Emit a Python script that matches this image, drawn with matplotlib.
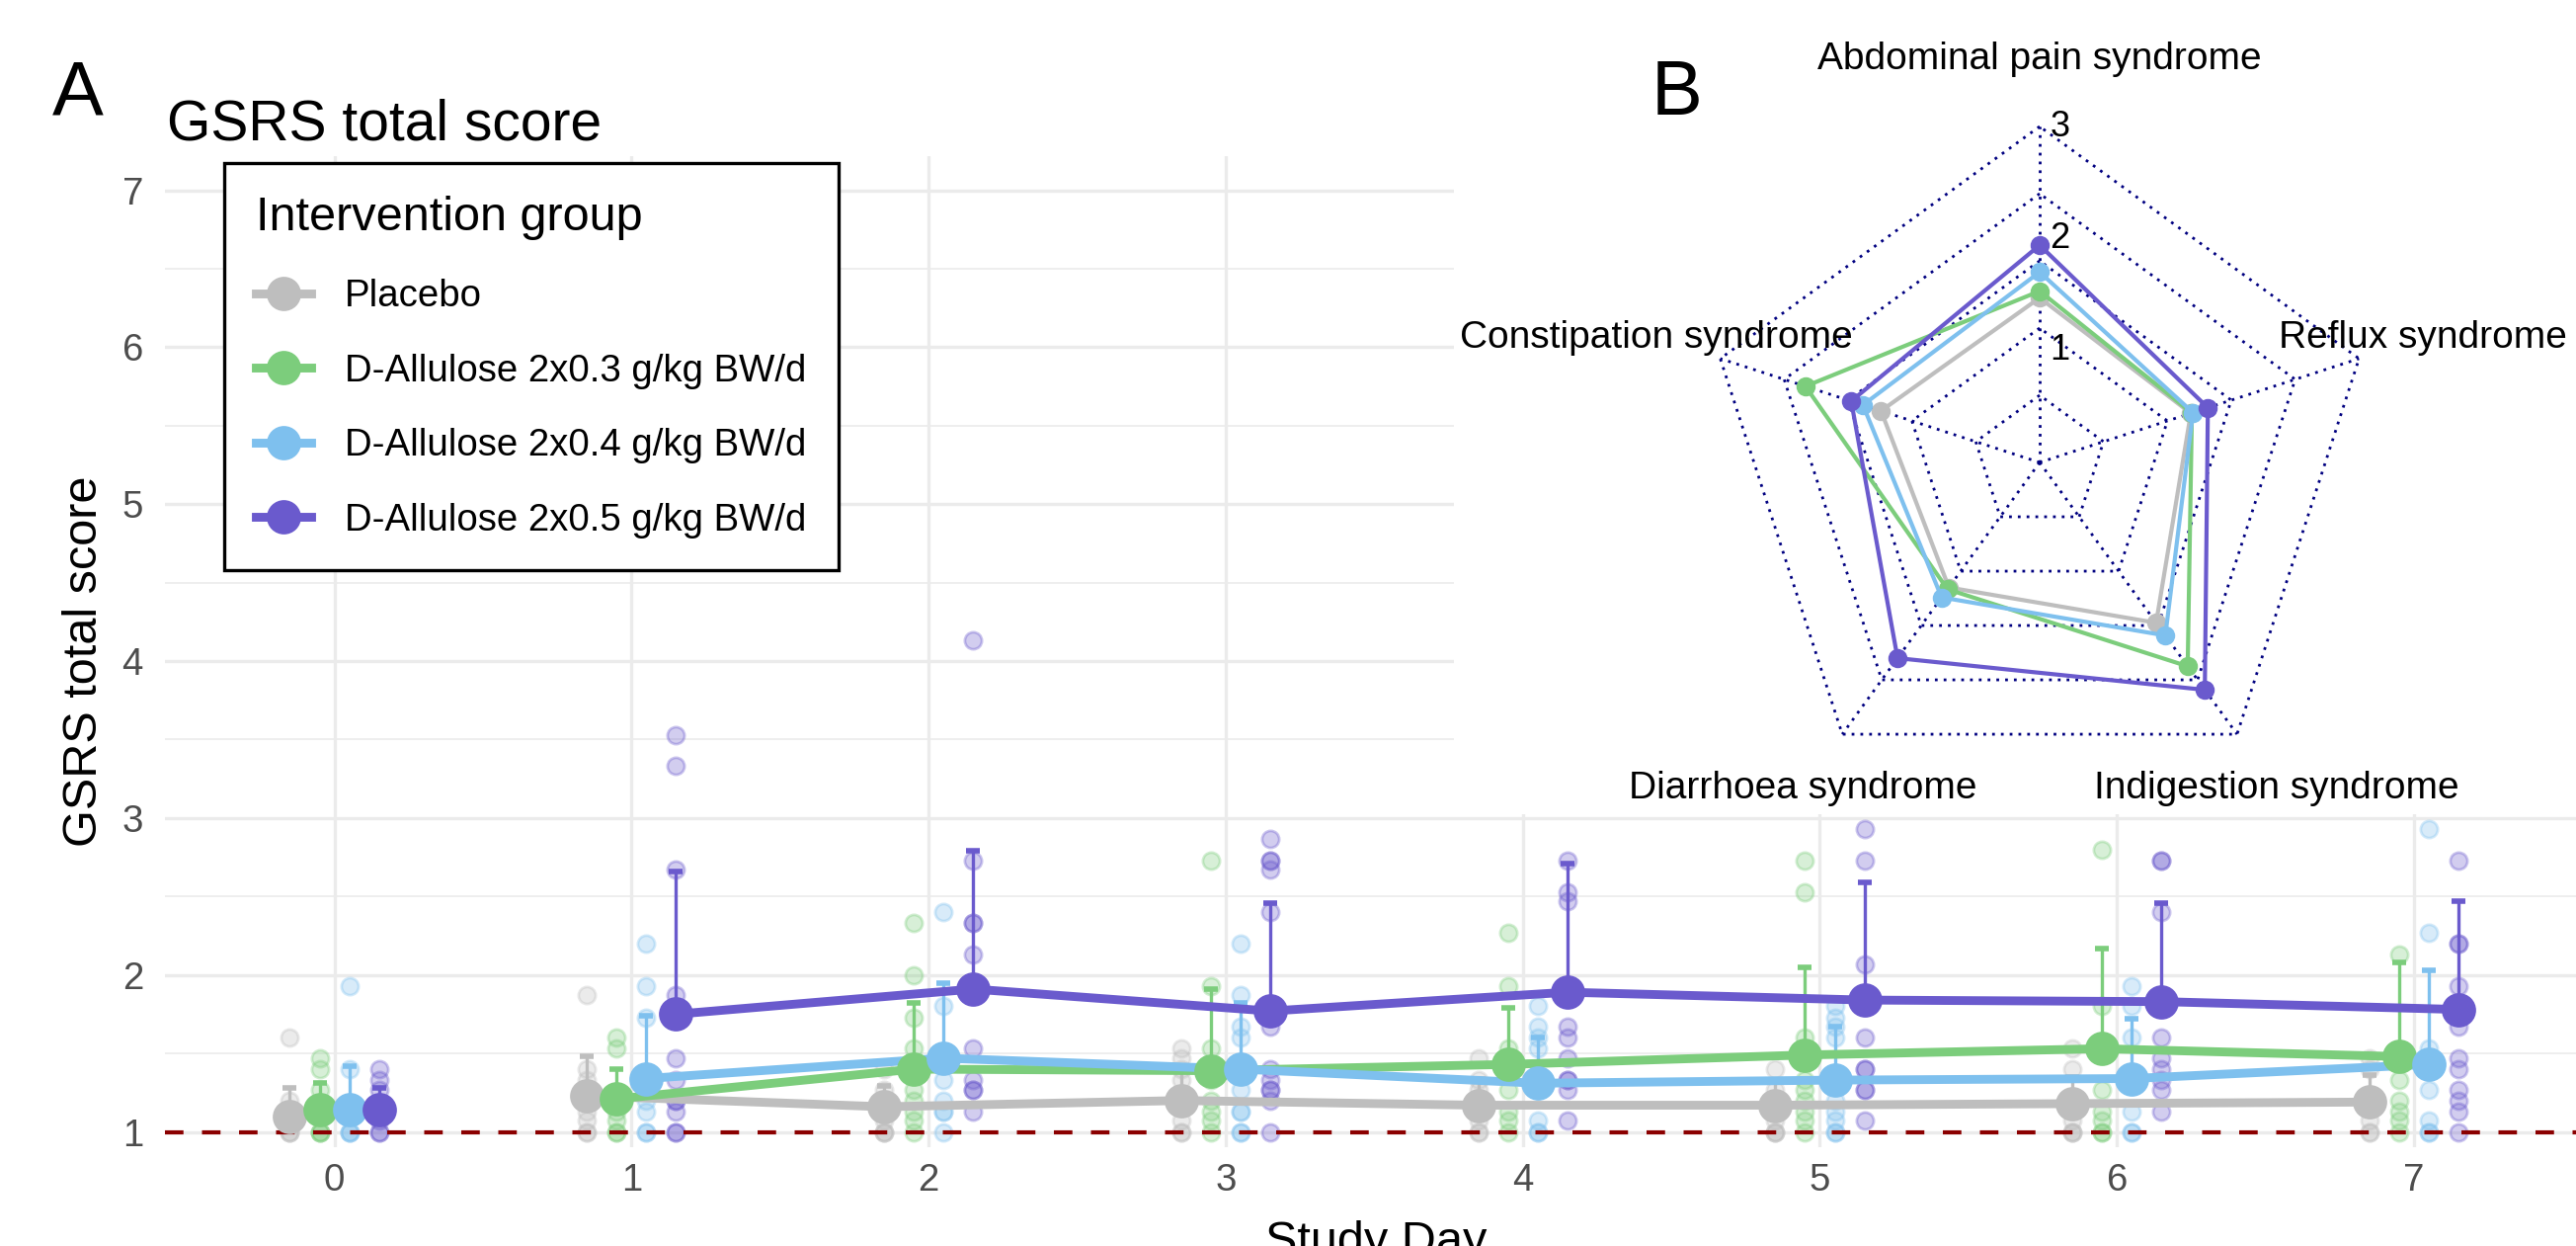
import matplotlib
matplotlib.use("Agg")
import matplotlib.pyplot as plt
import numpy as np
from matplotlib.colors import to_rgba
from matplotlib.lines import Line2D

plt.rcParams['font.family'] = ['Liberation Sans', 'DejaVu Sans']

# ---- data -------------------------------------------------------------
days = [0, 1, 2, 3, 4, 5, 6, 7]
groups = ["Placebo", "D-Allulose 2x0.3 g/kg BW/d",
          "D-Allulose 2x0.4 g/kg BW/d", "D-Allulose 2x0.5 g/kg BW/d"]
colors = ["#BEBEBE", "#7CCD7C", "#7EC0EE", "#6A5ACD"]

# individual GSRS total scores per day
placebo_pts = [[1.6, 1.2, 1.07, 1.0, 1.0, 1.0],
               [1.87, 1.4, 1.33, 1.13, 1.07, 1.0, 1.0],
               [1.4, 1.27, 1.07, 1.0, 1.0, 1.0],
               [1.53, 1.47, 1.4, 1.33, 1.07, 1.0, 1.0],
               [1.47, 1.33, 1.27, 1.07, 1.0, 1.0],
               [1.4, 1.27, 1.07, 1.0, 1.0, 1.0],
               [1.53, 1.4, 1.07, 1.0, 1.0, 1.0],
               [1.47, 1.4, 1.07, 1.0, 1.0]]
low_pts = [[1.47, 1.4, 1.27, 1.0, 1.0, 1.0],
           [1.6, 1.53, 1.13, 1.07, 1.0, 1.0],
           [2.33, 2.0, 1.73, 1.53, 1.27, 1.2, 1.13, 1.07, 1.0],
           [2.73, 1.93, 1.53, 1.33, 1.2, 1.13, 1.07, 1.0],
           [2.27, 1.93, 1.53, 1.27, 1.13, 1.07, 1.0],
           [2.73, 2.53, 1.6, 1.33, 1.27, 1.2, 1.13, 1.07, 1.0],
           [2.8, 1.8, 1.27, 1.13, 1.07, 1.0, 1.0],
           [2.13, 1.47, 1.33, 1.2, 1.13, 1.07, 1.0]]
mid_pts = [[1.93, 1.4, 1.0, 1.0, 1.0],
           [2.2, 1.93, 1.73, 1.2, 1.13, 1.0, 1.0],
           [2.4, 1.8, 1.33, 1.2, 1.13, 1.13, 1.0],
           [2.2, 1.87, 1.67, 1.6, 1.27, 1.13, 1.13, 1.0, 1.0],
           [1.8, 1.67, 1.6, 1.53, 1.07, 1.0, 1.0],
           [1.8, 1.73, 1.67, 1.6, 1.2, 1.13, 1.07, 1.0, 1.0],
           [1.93, 1.8, 1.6, 1.13, 1.0, 1.0],
           [2.93, 2.27, 1.53, 1.27, 1.07, 1.0, 1.0]]
high_pts = [[1.4, 1.33, 1.27, 1.07, 1.0, 1.0],
            [3.53, 3.33, 2.67, 1.87, 1.47, 1.33, 1.2, 1.2, 1.13, 1.0, 1.0],
            [4.13, 2.73, 2.33, 2.33, 2.13, 1.53, 1.33, 1.27, 1.27, 1.13],
            [2.87, 2.73, 2.73, 2.67, 2.4, 1.67, 1.4, 1.33, 1.27, 1.27, 1.2, 1.0],
            [2.73, 2.53, 2.47, 1.67, 1.6, 1.47, 1.33, 1.33, 1.27, 1.07],
            [2.93, 2.73, 2.07, 1.6, 1.4, 1.4, 1.27, 1.27, 1.07],
            [2.73, 2.73, 2.4, 1.6, 1.47, 1.4, 1.33, 1.27, 1.13],
            [2.73, 2.2, 2.2, 1.93, 1.67, 1.47, 1.4, 1.27, 1.2, 1.13, 1.0]]

# group means and SD (upper error bar only)
placebo_mean = [1.10, 1.23, 1.16, 1.20, 1.17, 1.17, 1.18, 1.19]
low_mean = [1.14, 1.21, 1.40, 1.39, 1.43, 1.49, 1.53, 1.48]
mid_mean = [1.14, 1.34, 1.47, 1.40, 1.31, 1.33, 1.34, 1.43]
high_mean = [1.14, 1.75, 1.91, 1.77, 1.89, 1.84, 1.83, 1.78]
placebo_sd = [0.18, 0.25, 0.13, 0.20, 0.17, 0.16, 0.17, 0.17]
low_sd = [0.17, 0.19, 0.42, 0.52, 0.36, 0.56, 0.64, 0.60]
mid_sd = [0.28, 0.40, 0.48, 0.42, 0.29, 0.34, 0.38, 0.60]
high_sd = [0.14, 0.91, 0.88, 0.69, 0.82, 0.75, 0.63, 0.69]

# radar: syndrome sub scores
syndromes = ["Abdominal pain syndrome", "Constipation syndrome",
             "Diarrhoea syndrome", "Indigestion syndrome", "Reflux syndrome"]
placebo_radar = [1.47, 1.49, 1.38, 1.77, 1.42]
low_radar = [1.53, 2.20, 1.40, 2.25, 1.43]
mid_radar = [1.70, 1.66, 1.49, 1.91, 1.44]
high_radar = [1.94, 1.77, 2.16, 2.51, 1.58]
radar_max = 3

all_pts = [placebo_pts, low_pts, mid_pts, high_pts]
all_mean = [placebo_mean, low_mean, mid_mean, high_mean]
all_sd = [placebo_sd, low_sd, mid_sd, high_sd]
all_radar = [placebo_radar, low_radar, mid_radar, high_radar]

# ---- figure -------------------------------------------------------------
W, H = 2608, 1261
fig = plt.figure(figsize=(W / 200, H / 200), dpi=200)


def fx(px):
    return px / W


def fy(py):
    return 1 - py / H


ax = fig.add_axes([fx(167.1), fy(1161.4), 1 - fx(167.1), fy(157.6) - fy(1161.4)])
offsets = [-0.15, -0.05, 0.05, 0.15]
d = np.array(days, dtype=float)

for i in range(4):
    c = colors[i]
    for day, vals in zip(days, all_pts[i]):
        ax.plot(np.full(len(vals), day + offsets[i]), vals, 'o', ls='none', ms=6.2,
                mfc=to_rgba(c, 0.3), mec=to_rgba(c, 0.35), mew=1.0, zorder=2)

ax.axhline(1, color='#8B0000', lw=1.5, dashes=(4.5, 4.5), zorder=3)

for i in range(4):
    c = colors[i]
    m = np.array(all_mean[i])
    s = np.array(all_sd[i])
    ax.errorbar(d + offsets[i], m, yerr=[np.zeros_like(s), s], fmt='none',
                ecolor=c, elinewidth=1.2, capsize=2.5, capthick=2.0, zorder=4)
    ax.plot(d[1:] + offsets[i], m[1:], color=c, lw=3.2, zorder=5)
    ax.plot(d + offsets[i], m, 'o', ls='none', color=c, ms=11.5, zorder=6)

ax.set_xlim(-0.57, 7.545)
ax.set_ylim(0.9, 7.22)
ax.set_xticks(days)
ax.set_yticks(range(1, 8))
ax.set_yticks(np.arange(1.5, 7.0, 1.0), minor=True)
ax.grid(which='major', color='#EBEBEB', lw=1.2)
ax.grid(which='minor', axis='y', color='#EBEBEB', lw=0.6)
ax.set_axisbelow(True)
for sp in ax.spines.values():
    sp.set_visible(False)
ax.tick_params(which='both', length=0, labelsize=13.8, labelcolor='#4D4D4D')
ax.tick_params(axis='x', pad=5.5)
ax.tick_params(axis='y', pad=8)

handles = [Line2D([], [], color=c, lw=3.2, marker='o', ms=11.5) for c in colors]
leg = ax.legend(handles, groups, title='Intervention group', loc='upper left',
                bbox_to_anchor=(fx(226.7), fy(165.3)), bbox_transform=fig.transFigure,
                borderaxespad=0, fancybox=False, framealpha=1, edgecolor='black',
                fontsize=13.8, title_fontsize=17.5, alignment='left',
                handlelength=1.45, handletextpad=0.89, borderpad=0.85, labelspacing=1.03)
leg.get_frame().set_linewidth(1.2)
leg.set_zorder(10)

fig.text(fx(169.3), fy(141.6), 'GSRS total score', fontsize=20.5, ha='left', va='baseline')
fig.text(fx(86), fy(669), 'GSRS total score', fontsize=17.5, rotation=90, ha='center', va='center')
fig.text(fx(1393), fy(1270), 'Study Day', fontsize=17.5, ha='center', va='baseline')
fig.text(fx(53), fy(116.5), 'A', fontsize=28, ha='left', va='baseline', zorder=5)

# ---- radar inset ----------------------------------------------------------
cx, cy, R = 2065, 468, 340
rax = fig.add_axes([fx(1472), fy(824), 1 - fx(1472), fy(0) - fy(824)], zorder=2)
rax.set_facecolor('white')
rax.set_xticks([])
rax.set_yticks([])
for sp in rax.spines.values():
    sp.set_visible(False)
rax.set_xlim((1472 - cx) / R, (W - cx) / R)
rax.set_ylim((cy - 824) / R, cy / R)

ang = np.deg2rad(90 + 72 * np.arange(5))
ux, uy = np.cos(ang), np.sin(ang)
for f in [0.2, 0.4, 0.6, 0.8, 1.0]:
    rax.plot(np.append(f * ux, f * ux[0]), np.append(f * uy, f * uy[0]),
             color='navy', lw=1.0, dashes=(1, 2.2))
for k in range(5):
    rax.plot([0, ux[k]], [0, uy[k]], color='navy', lw=1.0, dashes=(1, 2.2))

for i in range(4):
    r = np.array(all_radar[i]) / radar_max
    px, py = r * ux, r * uy
    rax.plot(np.append(px, px[0]), np.append(py, py[0]), color=colors[i], lw=1.5)
    rax.plot(px, py, 'o', ls='none', color=colors[i], ms=6)

for v in [1, 2, 3]:
    rax.text(0.06, v / radar_max, str(v), fontsize=13, ha='center', va='center')
for k, name in enumerate(syndromes):
    rax.text(1.2 * ux[k], 1.2 * uy[k], name, fontsize=14, ha='center', va='center')

fig.text(fx(1671.6), fy(116.5), 'B', fontsize=28, ha='left', va='baseline', zorder=5)

fig.savefig('out.png', dpi=200)
